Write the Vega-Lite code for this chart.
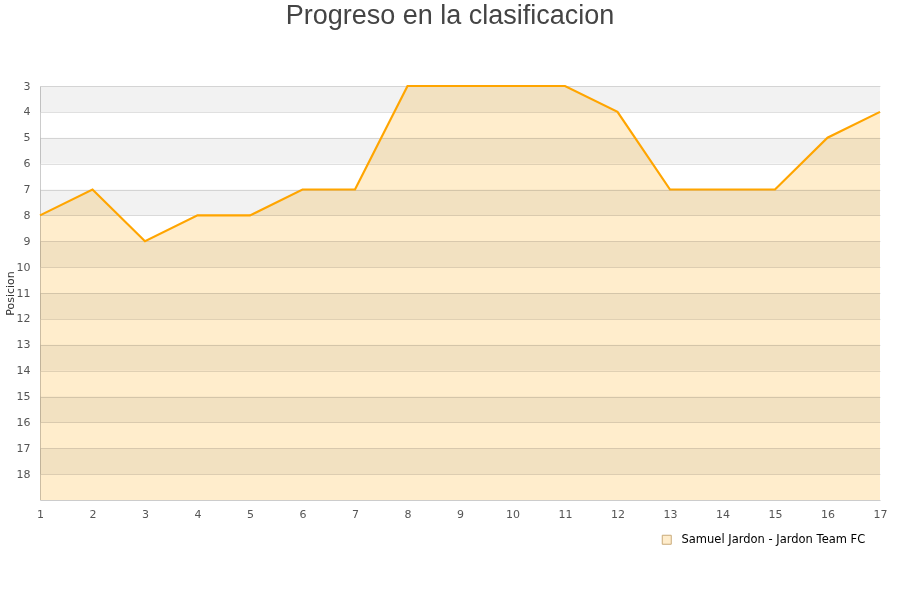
{
  "$schema": "https://vega.github.io/schema/vega-lite/v6.json",
  "width": 840,
  "height": 414,
  "autosize": {"type": "none"},
  "padding": {"left": 40, "top": 86, "right": 20, "bottom": 100},
  "background": "white",
  "title": {
    "text": "Progreso en la clasificacion",
    "font": "Liberation Sans",
    "fontSize": 27,
    "fontWeight": "normal",
    "color": "#444444",
    "anchor": "middle",
    "frame": "group",
    "baseline": "alphabetic",
    "dx": -10,
    "offset": 29
  },
  "config": {
    "view": {"stroke": null},
    "font": "DejaVu Sans",
    "axis": {
      "labelFont": "DejaVu Sans",
      "labelFontSize": 11,
      "labelColor": "#555555",
      "labelOverlap": false,
      "labelFlush": false,
      "titleFont": "DejaVu Sans",
      "titleFontSize": 11,
      "titleFontWeight": "normal",
      "titleColor": "#333333",
      "domainColor": "#cccccc",
      "gridColor": "#e0e0e0",
      "ticks": false
    }
  },
  "datasets": {
    "progreso": [
      {"jornada": 1, "posicion": 8, "equipo": "Samuel Jardon - Jardon Team FC"},
      {"jornada": 2, "posicion": 7, "equipo": "Samuel Jardon - Jardon Team FC"},
      {"jornada": 3, "posicion": 9, "equipo": "Samuel Jardon - Jardon Team FC"},
      {"jornada": 4, "posicion": 8, "equipo": "Samuel Jardon - Jardon Team FC"},
      {"jornada": 5, "posicion": 8, "equipo": "Samuel Jardon - Jardon Team FC"},
      {"jornada": 6, "posicion": 7, "equipo": "Samuel Jardon - Jardon Team FC"},
      {"jornada": 7, "posicion": 7, "equipo": "Samuel Jardon - Jardon Team FC"},
      {"jornada": 8, "posicion": 3, "equipo": "Samuel Jardon - Jardon Team FC"},
      {"jornada": 9, "posicion": 3, "equipo": "Samuel Jardon - Jardon Team FC"},
      {"jornada": 10, "posicion": 3, "equipo": "Samuel Jardon - Jardon Team FC"},
      {"jornada": 11, "posicion": 3, "equipo": "Samuel Jardon - Jardon Team FC"},
      {"jornada": 12, "posicion": 4, "equipo": "Samuel Jardon - Jardon Team FC"},
      {"jornada": 13, "posicion": 7, "equipo": "Samuel Jardon - Jardon Team FC"},
      {"jornada": 14, "posicion": 7, "equipo": "Samuel Jardon - Jardon Team FC"},
      {"jornada": 15, "posicion": 7, "equipo": "Samuel Jardon - Jardon Team FC"},
      {"jornada": 16, "posicion": 5, "equipo": "Samuel Jardon - Jardon Team FC"},
      {"jornada": 17, "posicion": 4, "equipo": "Samuel Jardon - Jardon Team FC"}
    ],
    "bandas": [
      {"desde": 3, "hasta": 4},
      {"desde": 5, "hasta": 6},
      {"desde": 7, "hasta": 8},
      {"desde": 9, "hasta": 10},
      {"desde": 11, "hasta": 12},
      {"desde": 13, "hasta": 14},
      {"desde": 15, "hasta": 16},
      {"desde": 17, "hasta": 18}
    ]
  },
  "layer": [
    {
      "data": {"name": "bandas"},
      "mark": {"type": "rect", "color": "black", "opacity": 0.05},
      "encoding": {
        "y": {
          "field": "desde",
          "type": "quantitative",
          "title": "Posicion",
          "scale": {"domain": [3, 19], "reverse": true, "nice": false, "zero": false},
          "axis": {
            "title": "Posicion",
            "values": [3, 4, 5, 6, 7, 8, 9, 10, 11, 12, 13, 14, 15, 16, 17, 18],
            "tickCount": 16,
            "labelOverlap": false,
            "labelPadding": 10,
            "titlePadding": 1,
            "grid": true
          }
        },
        "y2": {"field": "hasta"}
      }
    },
    {
      "data": {"name": "progreso"},
      "mark": {"type": "area", "blend": "multiply", "line": false},
      "encoding": {
        "x": {
          "field": "jornada",
          "type": "quantitative",
          "scale": {"domain": [1, 17], "nice": false, "zero": false},
          "axis": {
            "title": null,
            "values": [1, 2, 3, 4, 5, 6, 7, 8, 9, 10, 11, 12, 13, 14, 15, 16, 17],
            "format": "d",
            "grid": false,
            "labelPadding": 8
          }
        },
        "y": {
          "field": "posicion",
          "type": "quantitative",
          "title": "Posicion",
          "axis": {
            "title": "Posicion",
            "values": [3, 4, 5, 6, 7, 8, 9, 10, 11, 12, 13, 14, 15, 16, 17, 18],
            "tickCount": 16,
            "labelOverlap": false,
            "labelPadding": 10,
            "titlePadding": 1,
            "grid": true
          }
        },
        "y2": {"datum": 19},
        "color": {
          "field": "equipo",
          "type": "nominal",
          "scale": {"range": ["#ffedcc"]},
          "legend": {
            "title": null,
            "orient": "none",
            "legendX": 621,
            "legendY": 448,
            "symbolType": "square",
            "symbolSize": 81,
            "labelFont": "DejaVu Sans",
            "labelFontSize": 11.5,
            "labelColor": "#000000",
            "labelLimit": 400,
            "labelOffset": 9,
            "symbolStrokeWidth": 1,
            "symbolStrokeColor": "#c9ab7a",
            "encode": {
              "symbols": {
                "enter": {"stroke": {"value": "#c9ab7a"}, "strokeWidth": {"value": 1}},
                "update": {"stroke": {"value": "#c9ab7a"}, "strokeWidth": {"value": 1}}
              }
            }
          }
        }
      }
    },
    {
      "data": {"name": "progreso"},
      "mark": {"type": "line", "color": "#ffa500", "strokeWidth": 2.2},
      "encoding": {
        "x": {"field": "jornada", "type": "quantitative"},
        "y": {"field": "posicion", "type": "quantitative"}
      }
    }
  ]
}
